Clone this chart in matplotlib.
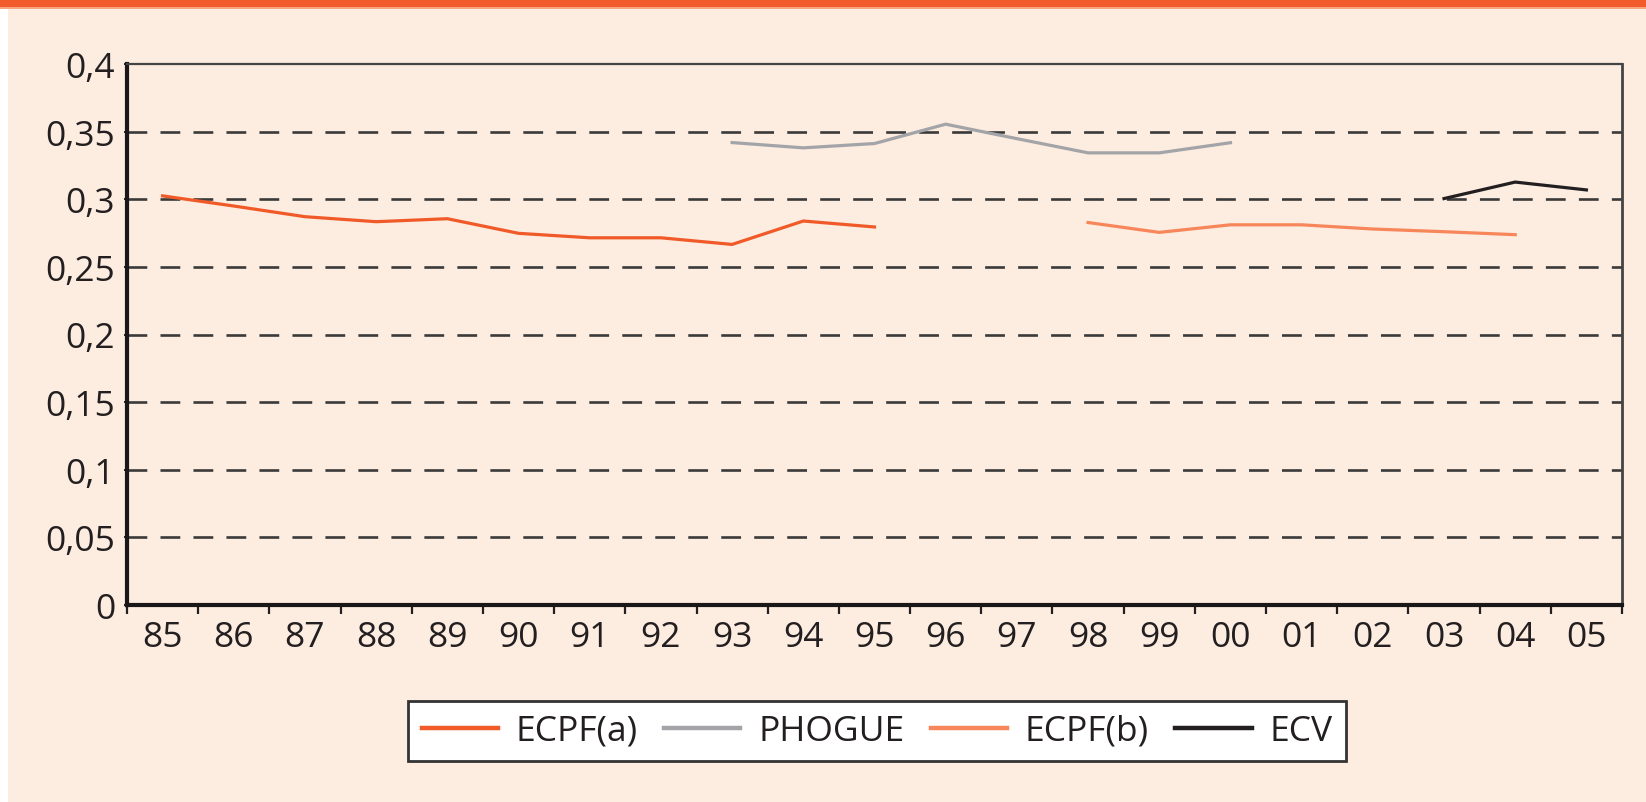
import numpy as np
import matplotlib
matplotlib.use("Agg")
import matplotlib.pyplot as plt
from matplotlib.patches import Rectangle
from matplotlib.ticker import FixedLocator, FuncFormatter

# --- DATA ---
years = ['85', '86', '87', '88', '89', '90', '91', '92', '93', '94', '95',
         '96', '97', '98', '99', '00', '01', '02', '03', '04', '05']

# each series: (first year, values)
ecpf_a_start = '85'
ecpf_a = [0.3025, 0.2950, 0.2871, 0.2834, 0.2856, 0.2748, 0.2715, 0.2715,
          0.2666, 0.2839, 0.2795]
phogue_start = '93'
phogue = [0.3419, 0.3380, 0.3412, 0.3555, 0.3448, 0.3343, 0.3343, 0.3418]
ecpf_b_start = '98'
ecpf_b = [0.2828, 0.2755, 0.2811, 0.2811, 0.2780, 0.2760, 0.2738]
ecv_start = '03'
ecv = [0.3005, 0.3127, 0.3069]

y_ticks = [0, 0.05, 0.1, 0.15, 0.2, 0.25, 0.3, 0.35, 0.4]

# --- STYLE ---
BG = '#FDECE0'
BANNER = '#F15A2B'
COLORS = {'ECPF(a)': '#F05A28', 'PHOGUE': '#A3A4A8',
          'ECPF(b)': '#F7875A', 'ECV': '#231F20'}
FS = 25.5

plt.rcParams['font.family'] = ['Open Sans', 'DejaVu Sans']

W, H = 1646, 803
fig = plt.figure(figsize=(W / 100, H / 100), dpi=100, facecolor='white')

# page background + banner strip at top
fig.patches.append(Rectangle((8 / W, 0), 1 - 8 / W, 1, transform=fig.transFigure,
                             facecolor=BG, edgecolor='none', zorder=-10))
fig.patches.append(Rectangle((0, 1 - 8 / H), 1, 8 / H, transform=fig.transFigure,
                             facecolor=BANNER, edgecolor='none', zorder=-9))
fig.patches.append(Rectangle((0, 1 - 10 / H), 1, 2 / H, transform=fig.transFigure,
                             facecolor='#F7A37F', edgecolor='none', zorder=-9))

ax = fig.add_axes([127 / W, 1 - 606 / H, (1622 - 127) / W, (606 - 65) / H])
ax.set_facecolor('none')

x_all = np.arange(len(years))


def draw(name, start, vals):
    i0 = years.index(start)
    xs = x_all[i0:i0 + len(vals)]
    ax.plot(xs, vals, color=COLORS[name], lw=2.3, label=name, zorder=3,
            solid_joinstyle='miter')


draw('ECPF(a)', ecpf_a_start, ecpf_a)
draw('PHOGUE', phogue_start, phogue)
draw('ECPF(b)', ecpf_b_start, ecpf_b)
draw('ECV', ecv_start, ecv)

# dashed gridlines (not at 0 or top)
for v in y_ticks[1:-1]:
    ax.axhline(v, color='#3A3A3A', lw=1.9, dashes=(7.5, 5), zorder=1)

ax.set_xlim(-0.5, len(years) - 0.5)
ax.set_ylim(y_ticks[0], y_ticks[-1])

# x: tick marks at category boundaries, labels at centres
ax.xaxis.set_major_locator(FixedLocator(np.arange(-0.5, len(years), 1.0)))
ax.xaxis.set_major_formatter(FuncFormatter(lambda v, p: ''))
ax.xaxis.set_minor_locator(FixedLocator(x_all))
ax.set_xticklabels(years, minor=True)
ax.tick_params(axis='x', which='major', direction='out', length=6.5, width=1.6,
               color='#231F20')
ax.tick_params(axis='x', which='minor', length=0, pad=11, labelsize=FS,
               labelcolor='#231F20')

ax.set_yticks(y_ticks)
ax.yaxis.set_major_formatter(FuncFormatter(lambda v, p: ('%g' % v).replace('.', ',')))
ax.tick_params(axis='y', direction='out', length=2.5, width=1.4, pad=6,
               labelsize=FS, labelcolor='#231F20', color='#231F20')

for side in ['left', 'bottom']:
    ax.spines[side].set_linewidth(3)
    ax.spines[side].set_color('#1A1718')
ax.spines['top'].set_linewidth(1.6)
ax.spines['top'].set_color('#444444')
ax.spines['right'].set_linewidth(2)
ax.spines['right'].set_color('#444444')

leg = fig.legend(loc='center', bbox_to_anchor=(877 / W, 1 - 732 / H), ncol=4,
                 fontsize=FS, frameon=True, fancybox=False, framealpha=1,
                 handlelength=2.15, handletextpad=0.5, columnspacing=0.75,
                 borderpad=0.38, borderaxespad=0)
leg.get_frame().set_edgecolor('#333333')
leg.get_frame().set_linewidth(2)
leg.get_frame().set_facecolor('white')
for h in leg.get_lines():
    h.set_linewidth(3.2)
for t in leg.get_texts():
    t.set_color('#231F20')

fig.savefig('out.png', dpi=100, facecolor=fig.get_facecolor())
